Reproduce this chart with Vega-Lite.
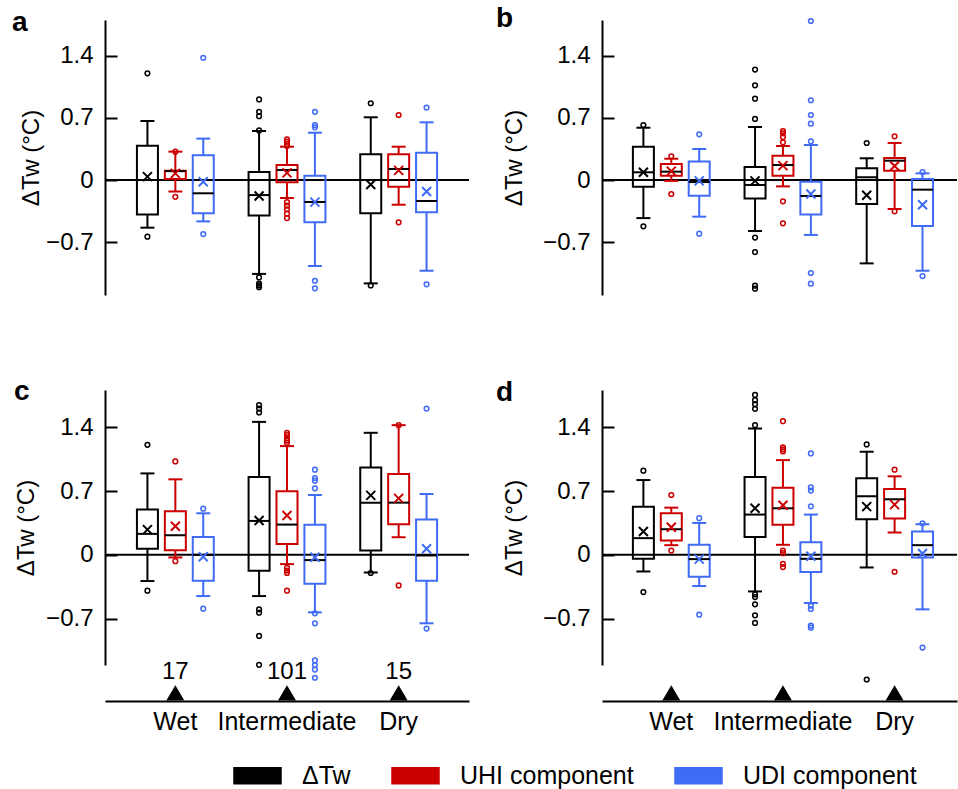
{
  "$schema": "https://vega.github.io/schema/vega-lite/v6.json",
  "padding": {"left": 12, "top": 4, "right": 0, "bottom": 0},
  "config": {
    "font": "Liberation Sans",
    "view": {"stroke": null},
    "legend": {"orient": "none", "legendX": 128, "legendY": 731, "direction": "horizontal", "labelFontSize": 25, "labelLimit": 400, "labelColor": "black", "labelOffset": 20, "columnPadding": 38, "padding": 0}
  },
  "datasets": {
    "boxes": [
      {"panel": "a", "group": "Wet", "series": "ΔTw", "lo": -0.538, "q1": -0.388, "med": 0.0, "q3": 0.388, "hi": 0.666, "mean": 0.038},
      {"panel": "a", "group": "Wet", "series": "UHI component", "lo": -0.13, "q1": 0.011, "med": 0.1, "q3": 0.105, "hi": 0.32, "mean": 0.075},
      {"panel": "a", "group": "Wet", "series": "UDI component", "lo": -0.467, "q1": -0.376, "med": -0.15, "q3": 0.279, "hi": 0.467, "mean": -0.02},
      {"panel": "a", "group": "Intermediate", "series": "ΔTw", "lo": -1.06, "q1": -0.4, "med": -0.17, "q3": 0.09, "hi": 0.553, "mean": -0.18},
      {"panel": "a", "group": "Intermediate", "series": "UHI component", "lo": -0.203, "q1": -0.026, "med": 0.113, "q3": 0.17, "hi": 0.376, "mean": 0.08},
      {"panel": "a", "group": "Intermediate", "series": "UDI component", "lo": -0.971, "q1": -0.478, "med": -0.248, "q3": 0.049, "hi": 0.534, "mean": -0.25},
      {"panel": "a", "group": "Dry", "series": "ΔTw", "lo": -1.167, "q1": -0.376, "med": 0.0, "q3": 0.29, "hi": 0.708, "mean": -0.05},
      {"panel": "a", "group": "Dry", "series": "UHI component", "lo": -0.279, "q1": -0.075, "med": 0.124, "q3": 0.29, "hi": 0.376, "mean": 0.109},
      {"panel": "a", "group": "Dry", "series": "UDI component", "lo": -1.024, "q1": -0.365, "med": -0.237, "q3": 0.309, "hi": 0.651, "mean": -0.13},

      {"panel": "b", "group": "Wet", "series": "ΔTw", "lo": -0.43, "q1": -0.075, "med": 0.087, "q3": 0.376, "hi": 0.59, "mean": 0.087},
      {"panel": "b", "group": "Wet", "series": "UHI component", "lo": -0.01, "q1": 0.049, "med": 0.094, "q3": 0.18, "hi": 0.24, "mean": 0.1},
      {"panel": "b", "group": "Wet", "series": "UDI component", "lo": -0.414, "q1": -0.177, "med": -0.023, "q3": 0.21, "hi": 0.35, "mean": -0.01},
      {"panel": "b", "group": "Intermediate", "series": "ΔTw", "lo": -0.576, "q1": -0.21, "med": -0.056, "q3": 0.147, "hi": 0.598, "mean": -0.01},
      {"panel": "b", "group": "Intermediate", "series": "UHI component", "lo": -0.072, "q1": 0.049, "med": 0.169, "q3": 0.275, "hi": 0.384, "mean": 0.162},
      {"panel": "b", "group": "Intermediate", "series": "UDI component", "lo": -0.62, "q1": -0.39, "med": -0.18, "q3": -0.019, "hi": 0.395, "mean": -0.158},
      {"panel": "b", "group": "Dry", "series": "ΔTw", "lo": -0.941, "q1": -0.271, "med": 0.03, "q3": 0.132, "hi": 0.245, "mean": -0.173},
      {"panel": "b", "group": "Dry", "series": "UHI component", "lo": -0.327, "q1": 0.105, "med": 0.218, "q3": 0.248, "hi": 0.418, "mean": 0.158},
      {"panel": "b", "group": "Dry", "series": "UDI component", "lo": -1.024, "q1": -0.519, "med": -0.109, "q3": 0.011, "hi": 0.075, "mean": -0.279},

      {"panel": "c", "group": "Wet", "series": "ΔTw", "lo": -0.288, "q1": 0.066, "med": 0.23, "q3": 0.497, "hi": 0.894, "mean": 0.277},
      {"panel": "c", "group": "Wet", "series": "UHI component", "lo": -0.029, "q1": 0.051, "med": 0.215, "q3": 0.478, "hi": 0.829, "mean": 0.314},
      {"panel": "c", "group": "Wet", "series": "UDI component", "lo": -0.453, "q1": -0.285, "med": 0.0, "q3": 0.197, "hi": 0.456, "mean": -0.022},
      {"panel": "c", "group": "Intermediate", "series": "ΔTw", "lo": -0.453, "q1": -0.175, "med": 0.372, "q3": 0.854, "hi": 1.46, "mean": 0.376},
      {"panel": "c", "group": "Intermediate", "series": "UHI component", "lo": -0.102, "q1": 0.12, "med": 0.332, "q3": 0.697, "hi": 1.194, "mean": 0.431},
      {"panel": "c", "group": "Intermediate", "series": "UDI component", "lo": -0.632, "q1": -0.318, "med": -0.058, "q3": 0.329, "hi": 0.657, "mean": -0.026},
      {"panel": "c", "group": "Dry", "series": "ΔTw", "lo": -0.194, "q1": 0.047, "med": 0.573, "q3": 0.96, "hi": 1.34, "mean": 0.653},
      {"panel": "c", "group": "Dry", "series": "UHI component", "lo": 0.193, "q1": 0.336, "med": 0.573, "q3": 0.887, "hi": 1.424, "mean": 0.62},
      {"panel": "c", "group": "Dry", "series": "UDI component", "lo": -0.752, "q1": -0.285, "med": -0.007, "q3": 0.387, "hi": 0.668, "mean": 0.066},

      {"panel": "d", "group": "Wet", "series": "ΔTw", "lo": -0.183, "q1": -0.044, "med": 0.183, "q3": 0.529, "hi": 0.821, "mean": 0.256},
      {"panel": "d", "group": "Wet", "series": "UHI component", "lo": 0.106, "q1": 0.157, "med": 0.281, "q3": 0.456, "hi": 0.518, "mean": 0.303},
      {"panel": "d", "group": "Wet", "series": "UDI component", "lo": -0.343, "q1": -0.241, "med": -0.047, "q3": 0.11, "hi": 0.35, "mean": -0.047},
      {"panel": "d", "group": "Intermediate", "series": "ΔTw", "lo": -0.402, "q1": 0.197, "med": 0.442, "q3": 0.854, "hi": 1.387, "mean": 0.511},
      {"panel": "d", "group": "Intermediate", "series": "UHI component", "lo": 0.11, "q1": 0.329, "med": 0.511, "q3": 0.737, "hi": 1.04, "mean": 0.544},
      {"panel": "d", "group": "Intermediate", "series": "UDI component", "lo": -0.529, "q1": -0.19, "med": -0.044, "q3": 0.139, "hi": 0.442, "mean": -0.015},
      {"panel": "d", "group": "Dry", "series": "ΔTw", "lo": -0.139, "q1": 0.391, "med": 0.643, "q3": 0.84, "hi": 1.132, "mean": 0.529},
      {"panel": "d", "group": "Dry", "series": "UHI component", "lo": 0.245, "q1": 0.398, "med": 0.61, "q3": 0.723, "hi": 0.862, "mean": 0.551},
      {"panel": "d", "group": "Dry", "series": "UDI component", "lo": -0.599, "q1": -0.029, "med": 0.106, "q3": 0.256, "hi": 0.336, "mean": 0.015}
    ],
    "outliers": [
      {"panel": "a", "group": "Wet", "series": "ΔTw", "value": 1.204},
      {"panel": "a", "group": "Wet", "series": "ΔTw", "value": -0.64},
      {"panel": "a", "group": "Wet", "series": "UHI component", "value": 0.32},
      {"panel": "a", "group": "Wet", "series": "UHI component", "value": -0.19},
      {"panel": "a", "group": "Wet", "series": "UDI component", "value": 1.38},
      {"panel": "a", "group": "Wet", "series": "UDI component", "value": -0.61},
      {"panel": "a", "group": "Intermediate", "series": "ΔTw", "value": 0.91},
      {"panel": "a", "group": "Intermediate", "series": "ΔTw", "value": 0.77},
      {"panel": "a", "group": "Intermediate", "series": "ΔTw", "value": 0.72},
      {"panel": "a", "group": "Intermediate", "series": "ΔTw", "value": 0.56},
      {"panel": "a", "group": "Intermediate", "series": "ΔTw", "value": -1.1},
      {"panel": "a", "group": "Intermediate", "series": "ΔTw", "value": -1.17},
      {"panel": "a", "group": "Intermediate", "series": "ΔTw", "value": -1.19},
      {"panel": "a", "group": "Intermediate", "series": "ΔTw", "value": -1.21},
      {"panel": "a", "group": "Intermediate", "series": "UHI component", "value": 0.46},
      {"panel": "a", "group": "Intermediate", "series": "UHI component", "value": 0.433},
      {"panel": "a", "group": "Intermediate", "series": "UHI component", "value": 0.406},
      {"panel": "a", "group": "Intermediate", "series": "UHI component", "value": 0.384},
      {"panel": "a", "group": "Intermediate", "series": "UHI component", "value": -0.25},
      {"panel": "a", "group": "Intermediate", "series": "UHI component", "value": -0.29},
      {"panel": "a", "group": "Intermediate", "series": "UHI component", "value": -0.33},
      {"panel": "a", "group": "Intermediate", "series": "UHI component", "value": -0.38},
      {"panel": "a", "group": "Intermediate", "series": "UHI component", "value": -0.43},
      {"panel": "a", "group": "Intermediate", "series": "UDI component", "value": 0.77},
      {"panel": "a", "group": "Intermediate", "series": "UDI component", "value": 0.62},
      {"panel": "a", "group": "Intermediate", "series": "UDI component", "value": 0.595},
      {"panel": "a", "group": "Intermediate", "series": "UDI component", "value": -1.137},
      {"panel": "a", "group": "Intermediate", "series": "UDI component", "value": -1.223},
      {"panel": "a", "group": "Dry", "series": "ΔTw", "value": 0.866},
      {"panel": "a", "group": "Dry", "series": "ΔTw", "value": -1.19},
      {"panel": "a", "group": "Dry", "series": "UHI component", "value": 0.734},
      {"panel": "a", "group": "Dry", "series": "UHI component", "value": -0.478},
      {"panel": "a", "group": "Dry", "series": "UDI component", "value": 0.817},
      {"panel": "a", "group": "Dry", "series": "UDI component", "value": -1.178},

      {"panel": "b", "group": "Wet", "series": "ΔTw", "value": 0.62},
      {"panel": "b", "group": "Wet", "series": "ΔTw", "value": -0.523},
      {"panel": "b", "group": "Wet", "series": "UHI component", "value": 0.267},
      {"panel": "b", "group": "Wet", "series": "UHI component", "value": -0.158},
      {"panel": "b", "group": "Wet", "series": "UDI component", "value": 0.516},
      {"panel": "b", "group": "Wet", "series": "UDI component", "value": -0.606},
      {"panel": "b", "group": "Intermediate", "series": "ΔTw", "value": 1.246},
      {"panel": "b", "group": "Intermediate", "series": "ΔTw", "value": 1.069},
      {"panel": "b", "group": "Intermediate", "series": "ΔTw", "value": 0.918},
      {"panel": "b", "group": "Intermediate", "series": "ΔTw", "value": 0.689},
      {"panel": "b", "group": "Intermediate", "series": "ΔTw", "value": -0.65},
      {"panel": "b", "group": "Intermediate", "series": "ΔTw", "value": -0.813},
      {"panel": "b", "group": "Intermediate", "series": "ΔTw", "value": -1.193},
      {"panel": "b", "group": "Intermediate", "series": "ΔTw", "value": -1.227},
      {"panel": "b", "group": "Intermediate", "series": "UHI component", "value": 0.553},
      {"panel": "b", "group": "Intermediate", "series": "UHI component", "value": 0.527},
      {"panel": "b", "group": "Intermediate", "series": "UHI component", "value": 0.486},
      {"panel": "b", "group": "Intermediate", "series": "UHI component", "value": 0.425},
      {"panel": "b", "group": "Intermediate", "series": "UHI component", "value": -0.241},
      {"panel": "b", "group": "Intermediate", "series": "UHI component", "value": -0.489},
      {"panel": "b", "group": "Intermediate", "series": "UDI component", "value": 1.795},
      {"panel": "b", "group": "Intermediate", "series": "UDI component", "value": 0.9},
      {"panel": "b", "group": "Intermediate", "series": "UDI component", "value": 0.734},
      {"panel": "b", "group": "Intermediate", "series": "UDI component", "value": 0.636},
      {"panel": "b", "group": "Intermediate", "series": "UDI component", "value": 0.437},
      {"panel": "b", "group": "Intermediate", "series": "UDI component", "value": -1.05},
      {"panel": "b", "group": "Intermediate", "series": "UDI component", "value": -1.17},
      {"panel": "b", "group": "Dry", "series": "ΔTw", "value": 0.418},
      {"panel": "b", "group": "Dry", "series": "UHI component", "value": 0.493},
      {"panel": "b", "group": "Dry", "series": "UHI component", "value": -0.354},
      {"panel": "b", "group": "Dry", "series": "UDI component", "value": 0.09},
      {"panel": "b", "group": "Dry", "series": "UDI component", "value": -1.084},

      {"panel": "c", "group": "Wet", "series": "ΔTw", "value": 1.208},
      {"panel": "c", "group": "Wet", "series": "ΔTw", "value": -0.394},
      {"panel": "c", "group": "Wet", "series": "UHI component", "value": 1.026},
      {"panel": "c", "group": "Wet", "series": "UHI component", "value": -0.07},
      {"panel": "c", "group": "Wet", "series": "UDI component", "value": 0.507},
      {"panel": "c", "group": "Wet", "series": "UDI component", "value": -0.591},
      {"panel": "c", "group": "Intermediate", "series": "ΔTw", "value": 1.643},
      {"panel": "c", "group": "Intermediate", "series": "ΔTw", "value": 1.606},
      {"panel": "c", "group": "Intermediate", "series": "ΔTw", "value": 1.563},
      {"panel": "c", "group": "Intermediate", "series": "ΔTw", "value": -0.599},
      {"panel": "c", "group": "Intermediate", "series": "ΔTw", "value": -0.635},
      {"panel": "c", "group": "Intermediate", "series": "ΔTw", "value": -0.891},
      {"panel": "c", "group": "Intermediate", "series": "ΔTw", "value": -1.208},
      {"panel": "c", "group": "Intermediate", "series": "UHI component", "value": 1.34},
      {"panel": "c", "group": "Intermediate", "series": "UHI component", "value": 1.314},
      {"panel": "c", "group": "Intermediate", "series": "UHI component", "value": 1.28},
      {"panel": "c", "group": "Intermediate", "series": "UHI component", "value": 1.255},
      {"panel": "c", "group": "Intermediate", "series": "UHI component", "value": 1.23},
      {"panel": "c", "group": "Intermediate", "series": "UHI component", "value": -0.142},
      {"panel": "c", "group": "Intermediate", "series": "UHI component", "value": -0.172},
      {"panel": "c", "group": "Intermediate", "series": "UHI component", "value": -0.2},
      {"panel": "c", "group": "Intermediate", "series": "UHI component", "value": -0.394},
      {"panel": "c", "group": "Intermediate", "series": "UDI component", "value": 0.935},
      {"panel": "c", "group": "Intermediate", "series": "UDI component", "value": 0.843},
      {"panel": "c", "group": "Intermediate", "series": "UDI component", "value": 0.814},
      {"panel": "c", "group": "Intermediate", "series": "UDI component", "value": 0.73},
      {"panel": "c", "group": "Intermediate", "series": "UDI component", "value": -0.643},
      {"panel": "c", "group": "Intermediate", "series": "UDI component", "value": -0.752},
      {"panel": "c", "group": "Intermediate", "series": "UDI component", "value": -1.16},
      {"panel": "c", "group": "Intermediate", "series": "UDI component", "value": -1.21},
      {"panel": "c", "group": "Intermediate", "series": "UDI component", "value": -1.26},
      {"panel": "c", "group": "Intermediate", "series": "UDI component", "value": -1.35},
      {"panel": "c", "group": "Dry", "series": "ΔTw", "value": -0.2},
      {"panel": "c", "group": "Dry", "series": "UHI component", "value": 1.424},
      {"panel": "c", "group": "Dry", "series": "UHI component", "value": -0.336},
      {"panel": "c", "group": "Dry", "series": "UDI component", "value": 1.606},
      {"panel": "c", "group": "Dry", "series": "UDI component", "value": -0.81},

      {"panel": "d", "group": "Wet", "series": "ΔTw", "value": 0.924},
      {"panel": "d", "group": "Wet", "series": "ΔTw", "value": -0.409},
      {"panel": "d", "group": "Wet", "series": "UHI component", "value": 0.657},
      {"panel": "d", "group": "Wet", "series": "UHI component", "value": 0.047},
      {"panel": "d", "group": "Wet", "series": "UDI component", "value": 0.402},
      {"panel": "d", "group": "Wet", "series": "UDI component", "value": -0.657},
      {"panel": "d", "group": "Intermediate", "series": "ΔTw", "value": 1.756},
      {"panel": "d", "group": "Intermediate", "series": "ΔTw", "value": 1.698},
      {"panel": "d", "group": "Intermediate", "series": "ΔTw", "value": 1.654},
      {"panel": "d", "group": "Intermediate", "series": "ΔTw", "value": 1.603},
      {"panel": "d", "group": "Intermediate", "series": "ΔTw", "value": 1.424},
      {"panel": "d", "group": "Intermediate", "series": "ΔTw", "value": -0.434},
      {"panel": "d", "group": "Intermediate", "series": "ΔTw", "value": -0.464},
      {"panel": "d", "group": "Intermediate", "series": "ΔTw", "value": -0.544},
      {"panel": "d", "group": "Intermediate", "series": "ΔTw", "value": -0.664},
      {"panel": "d", "group": "Intermediate", "series": "ΔTw", "value": -0.748},
      {"panel": "d", "group": "Intermediate", "series": "UHI component", "value": 1.468},
      {"panel": "d", "group": "Intermediate", "series": "UHI component", "value": 1.18},
      {"panel": "d", "group": "Intermediate", "series": "UHI component", "value": 1.157},
      {"panel": "d", "group": "Intermediate", "series": "UHI component", "value": 1.135},
      {"panel": "d", "group": "Intermediate", "series": "UHI component", "value": 0.047},
      {"panel": "d", "group": "Intermediate", "series": "UHI component", "value": 0.018},
      {"panel": "d", "group": "Intermediate", "series": "UHI component", "value": -0.099},
      {"panel": "d", "group": "Intermediate", "series": "UHI component", "value": -0.135},
      {"panel": "d", "group": "Intermediate", "series": "UDI component", "value": 1.114},
      {"panel": "d", "group": "Intermediate", "series": "UDI component", "value": 0.741},
      {"panel": "d", "group": "Intermediate", "series": "UDI component", "value": 0.705},
      {"panel": "d", "group": "Intermediate", "series": "UDI component", "value": 0.533},
      {"panel": "d", "group": "Intermediate", "series": "UDI component", "value": -0.559},
      {"panel": "d", "group": "Intermediate", "series": "UDI component", "value": -0.595},
      {"panel": "d", "group": "Intermediate", "series": "UDI component", "value": -0.778},
      {"panel": "d", "group": "Intermediate", "series": "UDI component", "value": -0.8},
      {"panel": "d", "group": "Dry", "series": "ΔTw", "value": 1.212},
      {"panel": "d", "group": "Dry", "series": "ΔTw", "value": -1.369},
      {"panel": "d", "group": "Dry", "series": "UHI component", "value": 0.935},
      {"panel": "d", "group": "Dry", "series": "UHI component", "value": -0.186},
      {"panel": "d", "group": "Dry", "series": "UDI component", "value": 0.347},
      {"panel": "d", "group": "Dry", "series": "UDI component", "value": -1.019}
    ],
    "groups": [
      {"group": "Wet", "n": "17"},
      {"group": "Intermediate", "n": "101"},
      {"group": "Dry", "n": "15"}
    ]
  },
  "bounds": "flush",
  "columns": 2,
  "spacing": {"row": 95, "column": 133},
  "concat": [
    {
      "width": 364, "height": 275,
      "title": {"text": "a", "anchor": "start", "frame": "group", "fontSize": 28, "fontWeight": "bold", "baseline": "alphabetic", "offset": -39, "dx": -93, "color": "black"},
      "layer": [
        {"data": {"values": [{}]}, "mark": {"type": "rule", "color": "black", "strokeWidth": 2},
         "encoding": {"y": {"datum": 0, "type": "quantitative", "scale": {"domain": [-1.298, 1.806], "nice": false, "zero": false},
           "axis": {"title": "ΔTw (°C)", "values": [-0.7, 0, 0.7, 1.4], "format": ".1~f", "grid": false, "domainColor": "black", "domainWidth": 2, "tickColor": "black", "tickWidth": 2, "tickSize": -12, "labelPadding": 24, "labelFontSize": 24, "labelColor": "black", "titleFontSize": 24, "titleFontWeight": "normal", "titleColor": "black", "titlePadding": 2}}}},
        {
          "encoding": {
            "x": {"field": "group", "type": "nominal", "sort": ["Wet", "Intermediate", "Dry"], "scale": {"domain": ["Wet", "Intermediate", "Dry"], "paddingInner": 0, "paddingOuter": 0.13}, "axis": null},
            "xOffset": {"field": "series", "type": "nominal", "scale": {"domain": ["ΔTw", "UHI component", "UDI component"], "paddingInner": 0, "paddingOuter": 0.5}},
            "color": {"field": "series", "type": "nominal", "title": null, "scale": {"domain": ["ΔTw", "UHI component", "UDI component"], "range": ["#000000", "#cc0000", "#3f6bf5"]},
              "legend": {"symbolType": "M-1,-0.34H1V0.34H-1Z", "symbolSize": 2209, "labelLimit": 400, "encode": {"symbols": {"update": {"fill": {"scale": "color", "field": "value"}, "stroke": {"value": "#111111"}, "strokeWidth": {"value": 1.5}, "opacity": {"value": 1}}}}}}
          },
          "layer": [
            {"data": {"name": "boxes"}, "transform": [{"filter": "datum.panel === 'a'"}],
             "layer": [
               {"mark": {"type": "rule", "strokeWidth": 2}, "encoding": {"y": {"field": "lo", "type": "quantitative"}, "y2": {"field": "q1"}}},
               {"mark": {"type": "rule", "strokeWidth": 2}, "encoding": {"y": {"field": "q3", "type": "quantitative"}, "y2": {"field": "hi"}}},
               {"mark": {"type": "tick", "size": 14, "thickness": 2, "opacity": 1}, "encoding": {"y": {"field": "lo", "type": "quantitative"}}},
               {"mark": {"type": "tick", "size": 14, "thickness": 2, "opacity": 1}, "encoding": {"y": {"field": "hi", "type": "quantitative"}}},
               {"mark": {"type": "bar", "width": 21, "filled": false, "strokeWidth": 2}, "encoding": {"y": {"field": "q1", "type": "quantitative"}, "y2": {"field": "q3"}}},
               {"mark": {"type": "tick", "size": 21, "thickness": 2, "opacity": 1}, "encoding": {"y": {"field": "med", "type": "quantitative"}, "color": {"value": "black"}}},
               {"mark": {"type": "point", "shape": "M-1,-1L1,1M1,-1L-1,1", "size": 81, "strokeWidth": 2, "opacity": 1}, "encoding": {"y": {"field": "mean", "type": "quantitative"}}}
             ]},
            {"data": {"name": "outliers"}, "transform": [{"filter": "datum.panel === 'a'"}],
             "mark": {"type": "point", "shape": "circle", "size": 22, "strokeWidth": 1.5, "filled": false, "opacity": 1},
             "encoding": {"y": {"field": "value", "type": "quantitative"}}}
          ]
        }
      ]
    },
    {
      "width": 355, "height": 275,
      "title": {"text": "b", "anchor": "start", "frame": "group", "fontSize": 28, "fontWeight": "bold", "baseline": "alphabetic", "offset": -39, "dx": -106, "color": "black"},
      "layer": [
        {"data": {"values": [{}]}, "mark": {"type": "rule", "color": "black", "strokeWidth": 2},
         "encoding": {"y": {"datum": 0, "type": "quantitative", "scale": {"domain": [-1.298, 1.806], "nice": false, "zero": false},
           "axis": {"title": "ΔTw (°C)", "values": [-0.7, 0, 0.7, 1.4], "format": ".1~f", "grid": false, "domainColor": "black", "domainWidth": 2, "tickColor": "black", "tickWidth": 2, "tickSize": -12, "labelPadding": 24, "labelFontSize": 24, "labelColor": "black", "titleFontSize": 24, "titleFontWeight": "normal", "titleColor": "black", "titlePadding": 16}}}},
        {
          "encoding": {
            "x": {"field": "group", "type": "nominal", "sort": ["Wet", "Intermediate", "Dry"], "scale": {"domain": ["Wet", "Intermediate", "Dry"], "paddingInner": 0, "paddingOuter": 0.0898, "align": 0.672}, "axis": null},
            "xOffset": {"field": "series", "type": "nominal", "scale": {"domain": ["ΔTw", "UHI component", "UDI component"], "paddingInner": 0, "paddingOuter": 0.5}},
            "color": {"field": "series", "type": "nominal", "title": null, "scale": {"domain": ["ΔTw", "UHI component", "UDI component"], "range": ["#000000", "#cc0000", "#3f6bf5"]},
              "legend": {"symbolType": "M-1,-0.34H1V0.34H-1Z", "symbolSize": 2209, "labelLimit": 400, "encode": {"symbols": {"update": {"fill": {"scale": "color", "field": "value"}, "stroke": {"value": "#111111"}, "strokeWidth": {"value": 1.5}, "opacity": {"value": 1}}}}}}
          },
          "layer": [
            {"data": {"name": "boxes"}, "transform": [{"filter": "datum.panel === 'b'"}],
             "layer": [
               {"mark": {"type": "rule", "strokeWidth": 2}, "encoding": {"y": {"field": "lo", "type": "quantitative"}, "y2": {"field": "q1"}}},
               {"mark": {"type": "rule", "strokeWidth": 2}, "encoding": {"y": {"field": "q3", "type": "quantitative"}, "y2": {"field": "hi"}}},
               {"mark": {"type": "tick", "size": 14, "thickness": 2, "opacity": 1}, "encoding": {"y": {"field": "lo", "type": "quantitative"}}},
               {"mark": {"type": "tick", "size": 14, "thickness": 2, "opacity": 1}, "encoding": {"y": {"field": "hi", "type": "quantitative"}}},
               {"mark": {"type": "bar", "width": 21, "filled": false, "strokeWidth": 2}, "encoding": {"y": {"field": "q1", "type": "quantitative"}, "y2": {"field": "q3"}}},
               {"mark": {"type": "tick", "size": 21, "thickness": 2, "opacity": 1}, "encoding": {"y": {"field": "med", "type": "quantitative"}, "color": {"value": "black"}}},
               {"mark": {"type": "point", "shape": "M-1,-1L1,1M1,-1L-1,1", "size": 81, "strokeWidth": 2, "opacity": 1}, "encoding": {"y": {"field": "mean", "type": "quantitative"}}}
             ]},
            {"data": {"name": "outliers"}, "transform": [{"filter": "datum.panel === 'b'"}],
             "mark": {"type": "point", "shape": "circle", "size": 22, "strokeWidth": 1.5, "filled": false, "opacity": 1},
             "encoding": {"y": {"field": "value", "type": "quantitative"}}}
          ]
        }
      ]
    },
    {
      "width": 364, "height": 275,
      "title": {"text": "c", "anchor": "start", "frame": "group", "fontSize": 28, "fontWeight": "bold", "baseline": "alphabetic", "offset": -38, "dx": -91, "color": "black"},
      "layer": [
        {"data": {"values": [{}]}, "mark": {"type": "rule", "color": "black", "strokeWidth": 2},
         "encoding": {"y": {"datum": 0, "type": "quantitative", "scale": {"domain": [-1.21, 1.81], "nice": false, "zero": false},
           "axis": {"title": "ΔTw (°C)", "values": [-0.7, 0, 0.7, 1.4], "format": ".1~f", "grid": false, "domainColor": "black", "domainWidth": 2, "tickColor": "black", "tickWidth": 2, "tickSize": -12, "labelPadding": 24, "labelFontSize": 24, "labelColor": "black", "titleFontSize": 24, "titleFontWeight": "normal", "titleColor": "black", "titlePadding": 7}}}},
        {"data": {"name": "groups"},
         "mark": {"type": "point", "shape": "M-1,0.85L0,-0.85L1,0.85Z", "size": 324, "filled": true, "color": "black", "opacity": 1, "strokeWidth": 0},
         "encoding": {
           "x": {"field": "group", "type": "nominal", "sort": ["Wet", "Intermediate", "Dry"], "scale": {"domain": ["Wet", "Intermediate", "Dry"], "paddingInner": 0, "paddingOuter": 0.13},
             "axis": {"title": null, "orient": "bottom", "offset": 36, "ticks": false, "labelAngle": 0, "labelFontSize": 25, "labelColor": "black", "labelPadding": 8, "domainColor": "black", "domainWidth": 2}},
           "y": {"datum": -1.517, "type": "quantitative"}}},
        {"data": {"name": "groups"},
         "mark": {"type": "text", "fontSize": 24, "baseline": "middle", "color": "black"},
         "encoding": {
           "x": {"field": "group", "type": "nominal", "sort": ["Wet", "Intermediate", "Dry"], "scale": {"domain": ["Wet", "Intermediate", "Dry"], "paddingInner": 0, "paddingOuter": 0.13},
             "axis": {"title": null, "orient": "bottom", "offset": 36, "ticks": false, "labelAngle": 0, "labelFontSize": 25, "labelColor": "black", "labelPadding": 8, "domainColor": "black", "domainWidth": 2}},
           "y": {"datum": -1.285, "type": "quantitative"},
           "text": {"field": "n"}}},
        {
          "encoding": {
            "x": {"field": "group", "type": "nominal", "sort": ["Wet", "Intermediate", "Dry"], "scale": {"domain": ["Wet", "Intermediate", "Dry"], "paddingInner": 0, "paddingOuter": 0.13},
              "axis": {"title": null, "orient": "bottom", "offset": 36, "ticks": false, "labelAngle": 0, "labelFontSize": 25, "labelColor": "black", "labelPadding": 8, "domainColor": "black", "domainWidth": 2}},
            "xOffset": {"field": "series", "type": "nominal", "scale": {"domain": ["ΔTw", "UHI component", "UDI component"], "paddingInner": 0, "paddingOuter": 0.5}},
            "color": {"field": "series", "type": "nominal", "title": null, "scale": {"domain": ["ΔTw", "UHI component", "UDI component"], "range": ["#000000", "#cc0000", "#3f6bf5"]},
              "legend": {"symbolType": "M-1,-0.34H1V0.34H-1Z", "symbolSize": 2209, "labelLimit": 400, "encode": {"symbols": {"update": {"fill": {"scale": "color", "field": "value"}, "stroke": {"value": "#111111"}, "strokeWidth": {"value": 1.5}, "opacity": {"value": 1}}}}}}
          },
          "layer": [
            {"data": {"name": "boxes"}, "transform": [{"filter": "datum.panel === 'c'"}],
             "layer": [
               {"mark": {"type": "rule", "strokeWidth": 2}, "encoding": {"y": {"field": "lo", "type": "quantitative"}, "y2": {"field": "q1"}}},
               {"mark": {"type": "rule", "strokeWidth": 2}, "encoding": {"y": {"field": "q3", "type": "quantitative"}, "y2": {"field": "hi"}}},
               {"mark": {"type": "tick", "size": 14, "thickness": 2, "opacity": 1}, "encoding": {"y": {"field": "lo", "type": "quantitative"}}},
               {"mark": {"type": "tick", "size": 14, "thickness": 2, "opacity": 1}, "encoding": {"y": {"field": "hi", "type": "quantitative"}}},
               {"mark": {"type": "bar", "width": 21, "filled": false, "strokeWidth": 2}, "encoding": {"y": {"field": "q1", "type": "quantitative"}, "y2": {"field": "q3"}}},
               {"mark": {"type": "tick", "size": 21, "thickness": 2, "opacity": 1}, "encoding": {"y": {"field": "med", "type": "quantitative"}, "color": {"value": "black"}}},
               {"mark": {"type": "point", "shape": "M-1,-1L1,1M1,-1L-1,1", "size": 81, "strokeWidth": 2, "opacity": 1}, "encoding": {"y": {"field": "mean", "type": "quantitative"}}}
             ]},
            {"data": {"name": "outliers"}, "transform": [{"filter": "datum.panel === 'c'"}],
             "mark": {"type": "point", "shape": "circle", "size": 22, "strokeWidth": 1.5, "filled": false, "opacity": 1},
             "encoding": {"y": {"field": "value", "type": "quantitative"}}}
          ]
        }
      ]
    },
    {
      "width": 355, "height": 275,
      "title": {"text": "d", "anchor": "start", "frame": "group", "fontSize": 28, "fontWeight": "bold", "baseline": "alphabetic", "offset": -39, "dx": -106, "color": "black"},
      "layer": [
        {"data": {"values": [{}]}, "mark": {"type": "rule", "color": "black", "strokeWidth": 2},
         "encoding": {"y": {"datum": 0, "type": "quantitative", "scale": {"domain": [-1.21, 1.81], "nice": false, "zero": false},
           "axis": {"title": "ΔTw (°C)", "values": [-0.7, 0, 0.7, 1.4], "format": ".1~f", "grid": false, "domainColor": "black", "domainWidth": 2, "tickColor": "black", "tickWidth": 2, "tickSize": -12, "labelPadding": 24, "labelFontSize": 24, "labelColor": "black", "titleFontSize": 24, "titleFontWeight": "normal", "titleColor": "black", "titlePadding": 16}}}},
        {"data": {"name": "groups"},
         "mark": {"type": "point", "shape": "M-1,0.85L0,-0.85L1,0.85Z", "size": 324, "filled": true, "color": "black", "opacity": 1, "strokeWidth": 0},
         "encoding": {
           "x": {"field": "group", "type": "nominal", "sort": ["Wet", "Intermediate", "Dry"], "scale": {"domain": ["Wet", "Intermediate", "Dry"], "paddingInner": 0, "paddingOuter": 0.0898, "align": 0.672},
             "axis": {"title": null, "orient": "bottom", "offset": 36, "ticks": false, "labelAngle": 0, "labelFontSize": 25, "labelColor": "black", "labelPadding": 8, "domainColor": "black", "domainWidth": 2}},
           "y": {"datum": -1.517, "type": "quantitative"}}},
        {
          "encoding": {
            "x": {"field": "group", "type": "nominal", "sort": ["Wet", "Intermediate", "Dry"], "scale": {"domain": ["Wet", "Intermediate", "Dry"], "paddingInner": 0, "paddingOuter": 0.0898, "align": 0.672},
              "axis": {"title": null, "orient": "bottom", "offset": 36, "ticks": false, "labelAngle": 0, "labelFontSize": 25, "labelColor": "black", "labelPadding": 8, "domainColor": "black", "domainWidth": 2}},
            "xOffset": {"field": "series", "type": "nominal", "scale": {"domain": ["ΔTw", "UHI component", "UDI component"], "paddingInner": 0, "paddingOuter": 0.5}},
            "color": {"field": "series", "type": "nominal", "title": null, "scale": {"domain": ["ΔTw", "UHI component", "UDI component"], "range": ["#000000", "#cc0000", "#3f6bf5"]},
              "legend": {"symbolType": "M-1,-0.34H1V0.34H-1Z", "symbolSize": 2209, "labelLimit": 400, "encode": {"symbols": {"update": {"fill": {"scale": "color", "field": "value"}, "stroke": {"value": "#111111"}, "strokeWidth": {"value": 1.5}, "opacity": {"value": 1}}}}}}
          },
          "layer": [
            {"data": {"name": "boxes"}, "transform": [{"filter": "datum.panel === 'd'"}],
             "layer": [
               {"mark": {"type": "rule", "strokeWidth": 2}, "encoding": {"y": {"field": "lo", "type": "quantitative"}, "y2": {"field": "q1"}}},
               {"mark": {"type": "rule", "strokeWidth": 2}, "encoding": {"y": {"field": "q3", "type": "quantitative"}, "y2": {"field": "hi"}}},
               {"mark": {"type": "tick", "size": 14, "thickness": 2, "opacity": 1}, "encoding": {"y": {"field": "lo", "type": "quantitative"}}},
               {"mark": {"type": "tick", "size": 14, "thickness": 2, "opacity": 1}, "encoding": {"y": {"field": "hi", "type": "quantitative"}}},
               {"mark": {"type": "bar", "width": 21, "filled": false, "strokeWidth": 2}, "encoding": {"y": {"field": "q1", "type": "quantitative"}, "y2": {"field": "q3"}}},
               {"mark": {"type": "tick", "size": 21, "thickness": 2, "opacity": 1}, "encoding": {"y": {"field": "med", "type": "quantitative"}, "color": {"value": "black"}}},
               {"mark": {"type": "point", "shape": "M-1,-1L1,1M1,-1L-1,1", "size": 81, "strokeWidth": 2, "opacity": 1}, "encoding": {"y": {"field": "mean", "type": "quantitative"}}}
             ]},
            {"data": {"name": "outliers"}, "transform": [{"filter": "datum.panel === 'd'"}],
             "mark": {"type": "point", "shape": "circle", "size": 22, "strokeWidth": 1.5, "filled": false, "opacity": 1},
             "encoding": {"y": {"field": "value", "type": "quantitative"}}}
          ]
        }
      ]
    }
  ]
}
